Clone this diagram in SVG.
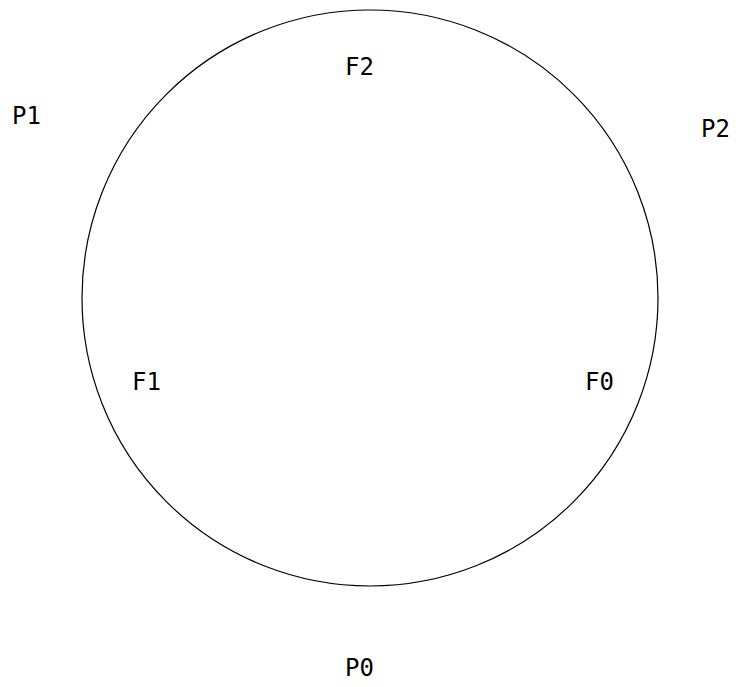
<svg xmlns="http://www.w3.org/2000/svg" width="739" height="687" viewBox="0 0 739 687">
<style>
text{font-family:"DejaVu Sans Mono","Liberation Mono",monospace;font-size:24px;fill:#000}
.c{fill:none;stroke:#000;stroke-width:1.2}
</style>
<rect width="739" height="687" fill="#fff"/>
<g id="connectors"></g>
<g id="circle"><circle class="c" cx="370" cy="298" r="288"/></g>
<g id="P1"><text x="12" y="124">P1</text></g>
<g id="F2"><text x="345" y="75">F2</text></g>
<g id="P2"><text x="701" y="137">P2</text></g>
<g id="F1"><text x="132" y="390">F1</text></g>
<g id="F0"><text x="585" y="390">F0</text></g>
<g id="P0"><text x="345" y="676">P0</text></g>
</svg>
